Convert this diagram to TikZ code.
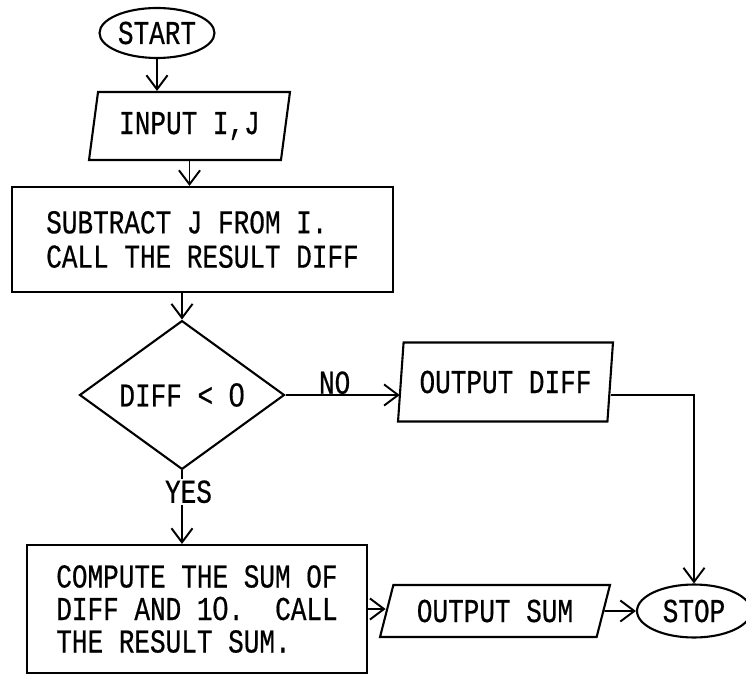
\documentclass[tikz,border=0pt]{standalone}
\usepackage{fontspec}
\newfontfamily\flowfont[FakeStretch=0.78, FakeBold=0.5]{Liberation Mono}
\newfontfamily\zerofont[FakeStretch=0.85, FakeBold=0.5]{Liberation Sans}
\newcommand\plainzero{{\zerofont 0}}
\usetikzlibrary{shapes.geometric,arrows.meta}
\frenchspacing

\begin{document}
\begin{tikzpicture}[x=0.02cm, y=-0.02cm,
    terminal/.style={ellipse, draw, line width=1.2pt, inner sep=0pt},
    io/.style={trapezium, draw, line width=1.2pt, trapezium stretches body, inner sep=1pt},
    process/.style={rectangle, draw, line width=1.2pt, align=left, inner sep=0pt},
    decision/.style={diamond, draw, line width=1.2pt, inner sep=0pt},
    flow/.style={-{Straight Barb[length=8pt, width=12pt]}, line width=1.1pt},
    every node/.style={font=\flowfont\fontsize{19}{19.5}\selectfont}
]
\useasboundingbox (0,0) rectangle (746,675);
% MAIN COLUMN
\node[terminal, minimum width=2.3cm, minimum height=1cm] (start) at (157,33) {START};
\node[io, trapezium left angle=74, trapezium right angle=106,
      minimum width=4.02cm, minimum height=1.36cm] (inp) at (189.5,126) {INPUT I,J};
\node[process, minimum width=7.62cm, minimum height=2.1cm] (sub) at (202.5,239.5)
    {SUBTRACT J FROM I.\\CALL THE RESULT DIFF};
\node[decision, minimum width=4.1cm, minimum height=2.82cm] (dec) at (182,395)
    {DIFF < \plainzero};
\node[process, minimum width=6.8cm, minimum height=2.56cm] (comp) at (197,609)
    {COMPUTE THE SUM OF\\[-1pt]DIFF AND 1\plainzero.~ CALL\\[-1pt]THE RESULT SUM.};
% OUTPUT BRANCHES
\node[io, trapezium left angle=78, trapezium right angle=102,
      minimum width=4.3cm, minimum height=1.58cm] (outd) at (505.5,382) {OUTPUT DIFF};
\node[io, trapezium left angle=63, trapezium right angle=117,
      minimum width=4.6cm, minimum height=1.04cm] (outs) at (495,611) {OUTPUT SUM};
\node[terminal, minimum width=2.28cm, minimum height=1.06cm] (stop) at (694,611) {STOP};
% FLOW LINES
\draw[flow] (start.south) -- (start.south |- inp.north);
\draw[flow] (inp.south) -- (inp.south |- sub.north);
\draw[flow] (dec.north |- sub.south) -- (dec.north);
\draw[flow] (dec.east) -- node[pos=0.43, above, inner sep=0pt] (no) {NO} (dec.east -| outd.west);
\draw[flow] (dec.south) -- node[pos=0.29, fill=white, inner sep=1pt, xshift=0.13cm] (yes) {YES}
    (dec.south |- comp.north);
\draw[flow] (outd.east |- dec.east) -| (stop.north);
\draw[flow] (comp.east) -- (comp.east -| outs.west);
\draw[flow] (outs.east) -- (stop.west);
\end{tikzpicture}
\end{document}
